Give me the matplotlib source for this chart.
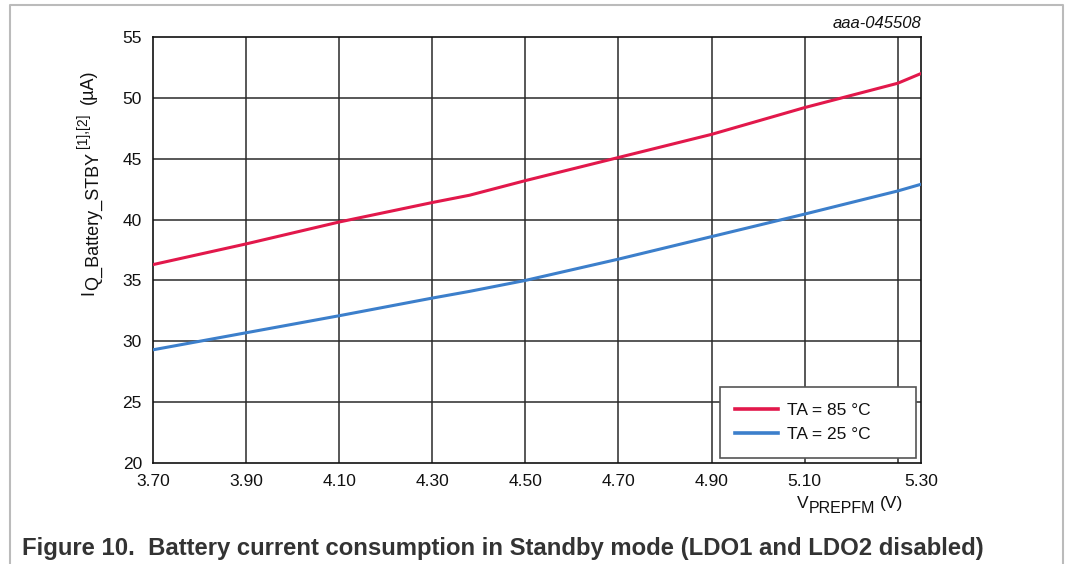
import numpy as np
import matplotlib
matplotlib.use("Agg")
import matplotlib.pyplot as plt
from matplotlib.lines import Line2D
from matplotlib.patches import Rectangle

plt.rcParams['font.family'] = ['Liberation Sans', 'DejaVu Sans']

W, H = 1066, 564

# supply voltage (V) and standby battery current (uA)
v_prepfm = [3.70, 3.90, 4.10, 4.30, 4.38, 4.50, 4.70, 4.90, 5.10, 5.30, 5.35]
iq_85c = [36.3, 38.0, 39.8, 41.4, 42.0, 43.2, 45.1, 47.0, 49.2, 51.2, 52.0]
iq_25c = [29.3, 30.7, 32.1, 33.55, 34.1, 35.0, 36.75, 38.6, 40.45, 42.35, 42.9]

series_labels = ['TA = 85 °C', 'TA = 25 °C']
series_colors = ['#e2184b', '#3c7fcb']

x_ticks = [3.70, 3.90, 4.10, 4.30, 4.50, 4.70, 4.90, 5.10, 5.35]
x_ticklabels = ['3.70', '3.90', '4.10', '4.30', '4.50', '4.70', '4.90', '5.10', '5.30']
x_grid = [3.90, 4.10, 4.30, 4.50, 4.70, 4.90, 5.10, 5.30]
y_ticks = [20, 25, 30, 35, 40, 45, 50, 55]


def px(x, y):
    # pixel position from the top-left corner -> figure fraction
    return x / W, 1 - y / H


def text_run(fig, x, y, parts, rotated=False):
    # lay out text pieces one after another; each piece is
    # (text, size, baseline offset in px, gap before in px)
    r = fig.canvas.get_renderer()
    pos = y if rotated else x
    for s, size, off, gap in parts:
        pos += -gap if rotated else gap
        if rotated:
            t = fig.text(*px(x + off, pos), s, fontsize=size, rotation=90,
                         rotation_mode='anchor', ha='left', va='baseline',
                         color='#111111')
            pos -= t.get_window_extent(r).height
        else:
            t = fig.text(*px(pos, y + off), s, fontsize=size,
                         ha='left', va='baseline', color='#111111')
            pos += t.get_window_extent(r).width


fig = plt.figure(figsize=(W / 100, H / 100), dpi=100)
ax = fig.add_axes([153 / W, 1 - 463 / H, 768 / W, 426 / H])

for x in x_grid:
    ax.axvline(x, color='#2a2a2a', lw=1.1, zorder=1)
for y in y_ticks[1:-1]:
    ax.axhline(y, color='#2a2a2a', lw=1.1, zorder=1)

ax.plot(v_prepfm, iq_85c, color=series_colors[0], lw=2.2, zorder=3)
ax.plot(v_prepfm, iq_25c, color=series_colors[1], lw=2.2, zorder=3)

ax.set_xlim(3.70, 5.35)
ax.set_ylim(20, 55)
ax.set_xticks(x_ticks)
ax.set_xticklabels(x_ticklabels)
ax.set_yticks(y_ticks)
ax.tick_params(axis='both', length=0, labelsize=12.5, colors='#111111')
ax.tick_params(axis='x', pad=8)
ax.tick_params(axis='y', pad=8)
for s in ax.spines.values():
    s.set_color('#111111')
    s.set_linewidth(1.2)

# y axis title with subscript and superscript
text_run(fig, 93, 295, [
    ('I', 13, 0, 0),
    ('Q_Battery_STBY', 13, 5, 0),
    ('[1],[2]', 10, -6, 4),
    ('(µA)', 13, 0, 9),
], rotated=True)

# x axis title
text_run(fig, 797, 508, [
    ('V', 12.5, 0, 0),
    ('PREPFM', 11.5, 5, 0),
    ('(V)', 12.5, 0, 5),
])

fig.text(*px(921, 24), 'aaa-045508', fontsize=12, style='italic',
         ha='right', va='center', color='#111111')

# legend box
ax.add_patch(Rectangle(px(720, 458), 196 / W, 71 / H, transform=fig.transFigure,
                       facecolor='white', edgecolor='#555555', lw=1.2, zorder=4))
handles = [Line2D([], [], color=c, lw=2.6) for c in series_colors]
leg = ax.legend(handles, series_labels, loc='upper left',
                bbox_to_anchor=px(735, 403), bbox_transform=fig.transFigure,
                fontsize=12.5, frameon=False, borderpad=0, borderaxespad=0,
                handlelength=2.5, handletextpad=0.5, labelspacing=0.5)
leg.set_zorder(5)
for t in leg.get_texts():
    t.set_color('#111111')

fig.text(*px(22, 548),
         'Figure 10.  Battery current consumption in Standby mode (LDO1 and LDO2 disabled)',
         fontsize=17.2, fontweight='bold', color='#333333', va='center')

# page frame around the figure
fig.add_artist(Line2D([10 / W, 10 / W, 1063 / W, 1063 / W],
                      [0, 1 - 5 / H, 1 - 5 / H, 0],
                      transform=fig.transFigure, color='#bbbbbb', lw=1.5))

fig.savefig('out.png', dpi=100)
